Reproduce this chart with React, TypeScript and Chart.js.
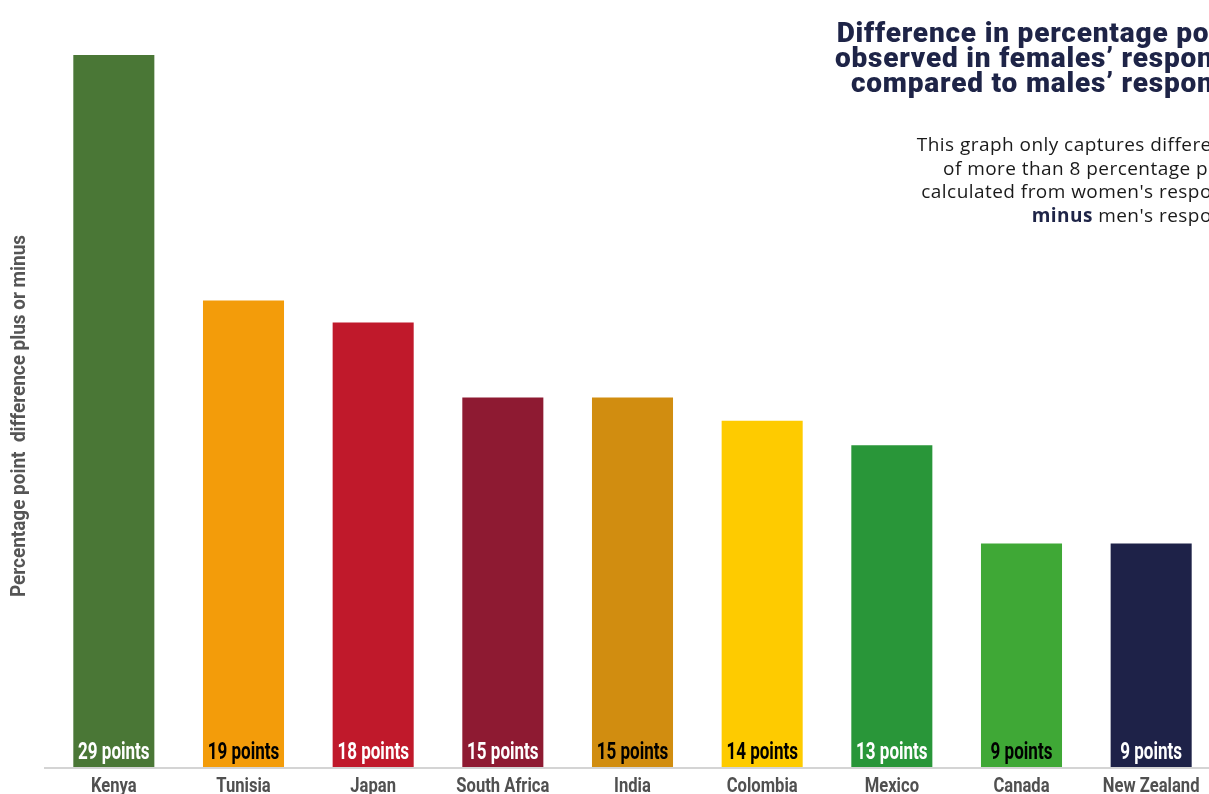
import React, { useEffect, useRef } from "react";
import { Chart, registerables } from "chart.js";

Chart.register(...registerables);

const categories = ["Kenya", "Tunisia", "Japan", "South Africa", "India", "Colombia", "Mexico", "Canada", "New Zealand"];
const values = [29, 19, 18.1, 15.05, 15.05, 14.1, 13.1, 9.1, 9.1];
const pointLabels = ["29 points", "19 points", "18 points", "15 points", "15 points", "14 points", "13 points", "9 points", "9 points"];
const barColors = ["#4a7736", "#f39c0a", "#c0192b", "#8e1a32", "#d18d10", "#fecb00", "#299639", "#3fa836", "#1e2248"];
const labelColors = ["#ffffff", "#000000", "#ffffff", "#ffffff", "#000000", "#000000", "#ffffff", "#000000", "#ffffff"];
const titleLines = ["Difference in percentage points", "observed in females\u2019 responses", "compared to males\u2019 responses"];
const subtitleLines = ["This graph only captures differences", "of more than 8 percentage points", "calculated from women's responses"];
const subtitleLastBold = "minus";
const subtitleLastRest = " men's responses";
const yAxisTitle = "Percentage point  difference plus or minus";
const yMax = 29;

const W = 1280;
const H = 794;
const COND = "Roboto, 'Noto Sans', sans-serif";
const TITLE_FONT = "Roboto, 'Noto Sans', sans-serif";
const SUB_FONT = "'Open Sans', 'Noto Sans', sans-serif";

function condText(ctx: any, text: string, x: number, y: number, sx: number) {
  ctx.save();
  ctx.translate(x, y);
  ctx.scale(sx, 1);
  ctx.fillText(text, 0, 0);
  ctx.restore();
}

const overlay = {
  id: "overlay",
  afterDatasetsDraw(chart: any) {
    const ctx = chart.ctx;
    const area = chart.chartArea;
    const meta = chart.getDatasetMeta(0);
    const xs = chart.scales.x;
    ctx.save();
    // axis line
    ctx.strokeStyle = "#d4d4d4";
    ctx.lineWidth = 2;
    ctx.beginPath();
    ctx.moveTo(44, area.bottom + 1);
    ctx.lineTo(W, area.bottom + 1);
    ctx.stroke();
    // bar labels
    ctx.font = `bold 24px ${COND}`;
    ctx.textAlign = "center";
    ctx.textBaseline = "alphabetic";
    meta.data.forEach((bar: any, i: number) => {
      ctx.fillStyle = labelColors[i];
      condText(ctx, pointLabels[i], bar.x, area.bottom - 8, 0.71);
    });
    // category tick labels from the x scale
    ctx.font = `bold 20px ${COND}`;
    ctx.fillStyle = "#505050";
    xs.ticks.forEach((t: any, i: number) => {
      const label = xs.getLabelForValue(t.value);
      condText(ctx, label, xs.getPixelForTick(i), 792, 0.83);
    });
    // y axis title
    ctx.save();
    ctx.translate(25, 416);
    ctx.rotate(-Math.PI / 2);
    ctx.font = `bold 21px ${COND}`;
    ctx.fillStyle = "#555555";
    ctx.textAlign = "center";
    const yw = ctx.measureText(yAxisTitle).width;
    ctx.scale(362 / yw, 1);
    ctx.fillText(yAxisTitle, 0, 0);
    ctx.restore();
    // title
    const R = 1260;
    ctx.textAlign = "right";
    ctx.fillStyle = "#1e2447";
    ctx.font = `900 28px ${TITLE_FONT}`;
    (ctx as any).letterSpacing = "0.8px";
    titleLines.forEach((t, i) => ctx.fillText(t, R, 42 + i * 25));
    // subtitle
    const RS = 1254;
    (ctx as any).letterSpacing = "0.45px";
    ctx.font = `400 19px ${SUB_FONT}`;
    ctx.fillStyle = "#1a1a1a";
    subtitleLines.forEach((t, i) => ctx.fillText(t, RS, 151 + i * 23.7));
    const restW = ctx.measureText(subtitleLastRest).width;
    ctx.fillText(subtitleLastRest, RS, 151 + 3 * 23.7);
    ctx.font = `bold 19px ${SUB_FONT}`;
    ctx.fillStyle = "#1e2447";
    ctx.fillText(subtitleLastBold, RS - restW, 151 + 3 * 23.7);
    (ctx as any).letterSpacing = "0px";
    ctx.restore();
  },
};

export default function App() {
  const ref = useRef<HTMLCanvasElement | null>(null);
  useEffect(() => {
    if (!ref.current) return;
    const chart = new Chart(ref.current, {
      type: "bar",
      data: {
        labels: categories,
        datasets: [
          {
            data: values,
            backgroundColor: barColors,
            barPercentage: 0.625,
            categoryPercentage: 1,
          },
        ],
      },
      options: {
        animation: false,
        responsive: false,
        devicePixelRatio: 1,
        layout: { padding: { left: 49, right: W - 1216, top: 55, bottom: H - 767 } },
        plugins: { legend: { display: false }, tooltip: { enabled: false }, title: { display: false } },
        scales: {
          x: {
            grid: { display: false, drawTicks: false },
            border: { display: false },
            ticks: { display: false, autoSkip: false },
          },
          y: { display: false, min: 0, max: yMax },
        },
      },
      plugins: [overlay],
    });
    return () => chart.destroy();
  }, []);
  return (
    <div style={{ position: "fixed", left: 0, top: 0, width: 1209, height: 794, overflow: "hidden", background: "#fff" }}>
      <canvas ref={ref} width={W} height={H} style={{ width: W, height: H, display: "block" }} />
    </div>
  );
}
